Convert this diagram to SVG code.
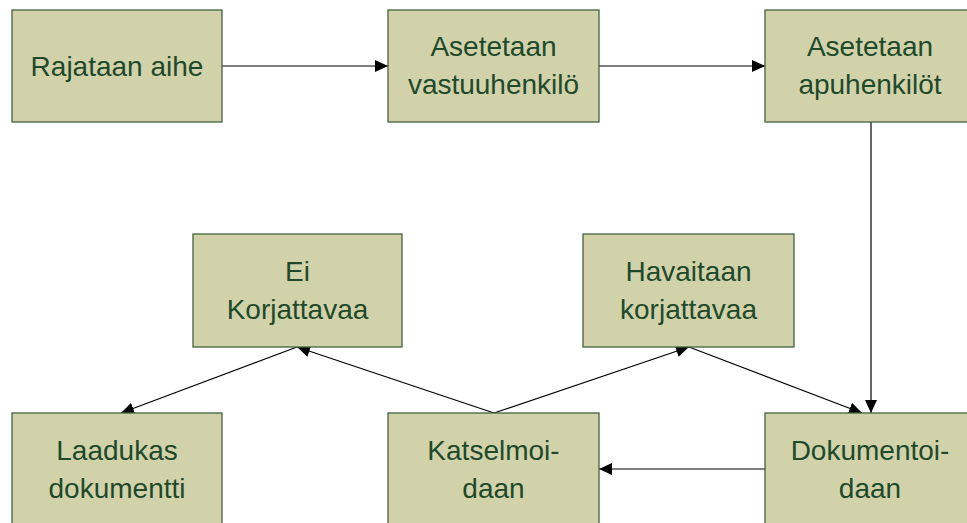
<svg xmlns="http://www.w3.org/2000/svg" width="967" height="523" viewBox="0 0 967 523">
<defs>
<marker id="ah" viewBox="0 0 13 12" refX="13" refY="6" markerWidth="13" markerHeight="12" markerUnits="userSpaceOnUse" orient="auto">
<path d="M0,0 L13,6 L0,12 z" fill="#000"/>
</marker>
</defs>
<style>
.box{fill:#d2d2aa;stroke:#44623f;stroke-width:1.3}
.t{font-family:"Liberation Sans",Arial,sans-serif;font-size:28px;fill:#1e4a2a;text-anchor:middle}
.c{stroke:#000;stroke-width:1.2;fill:none;marker-end:url(#ah)}
</style>
<rect width="967" height="523" fill="#fff"/>
<g id="connectors">
<line class="c" x1="222" y1="66" x2="388" y2="66"/>
<line class="c" x1="599" y1="66" x2="765" y2="66"/>
<line class="c" x1="871" y1="122" x2="871" y2="413"/>
<line class="c" x1="765" y1="469" x2="599" y2="469"/>
<line class="c" x1="494" y1="413" x2="297" y2="347"/>
<line class="c" x1="494" y1="413" x2="689" y2="347"/>
<line class="c" x1="689" y1="347" x2="862" y2="413"/>
<line class="c" x1="297" y1="347" x2="121" y2="413"/>
</g>
<g id="n1"><rect class="box" x="12" y="10" width="210" height="112"/><text class="t" x="117" y="76">Rajataan aihe</text></g>
<g id="n2"><rect class="box" x="388" y="10" width="211" height="112"/><text class="t" x="493.5" y="56">Asetetaan</text><text class="t" x="493.5" y="94">vastuuhenkilö</text></g>
<g id="n3"><rect class="box" x="765" y="10" width="211" height="112"/><text class="t" x="870" y="56">Asetetaan</text><text class="t" x="870" y="94">apuhenkilöt</text></g>
<g id="n4"><rect class="box" x="193" y="234" width="209" height="113"/><text class="t" x="297.5" y="281">Ei</text><text class="t" x="297.5" y="319">Korjattavaa</text></g>
<g id="n5"><rect class="box" x="583" y="234" width="211" height="113"/><text class="t" x="688.5" y="281">Havaitaan</text><text class="t" x="688.5" y="319">korjattavaa</text></g>
<g id="n6"><rect class="box" x="12" y="413" width="210" height="112"/><text class="t" x="117" y="460">Laadukas</text><text class="t" x="117" y="498">dokumentti</text></g>
<g id="n7"><rect class="box" x="388" y="413" width="211" height="112"/><text class="t" x="493.5" y="460">Katselmoi-</text><text class="t" x="493.5" y="498">daan</text></g>
<g id="n8"><rect class="box" x="765" y="413" width="211" height="112"/><text class="t" x="870" y="460">Dokumentoi-</text><text class="t" x="870" y="498">daan</text></g>
</svg>
